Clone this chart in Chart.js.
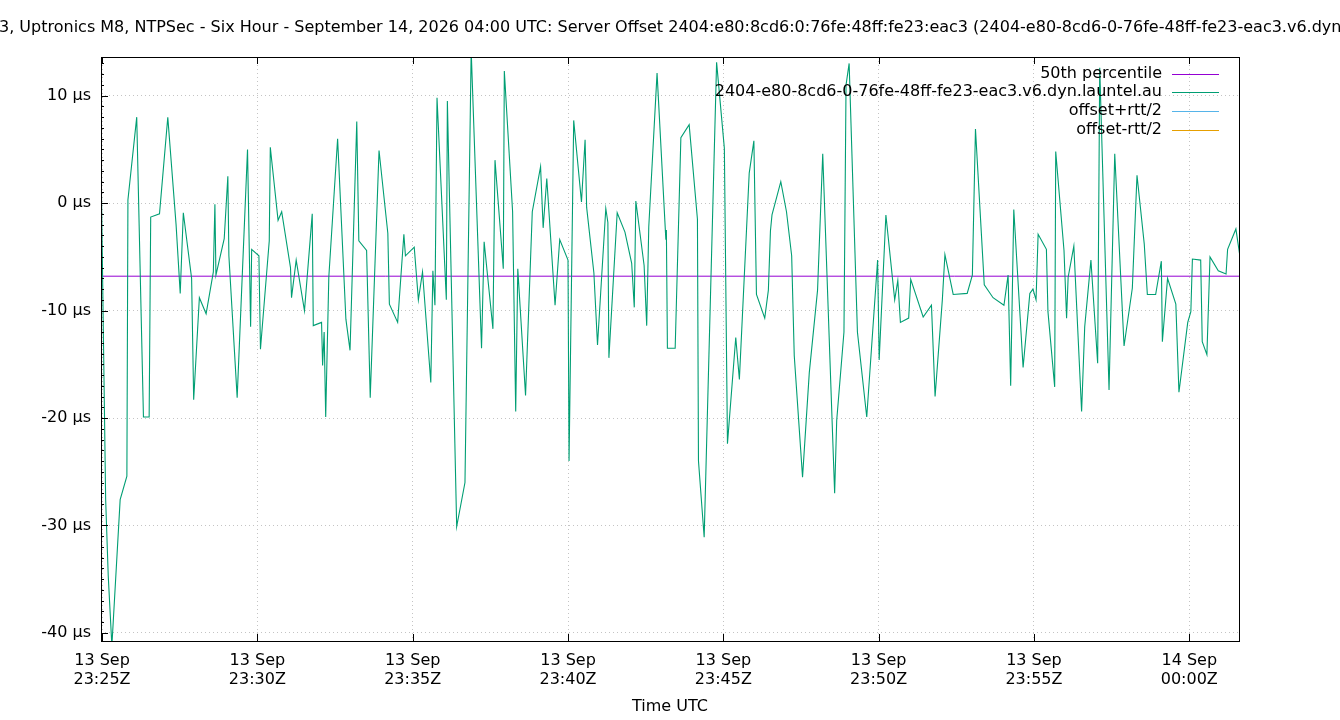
<!DOCTYPE html>
<html>
<head>
<meta charset="utf-8">
<script src="https://cdn.jsdelivr.net/npm/chart.js@4.4.1/dist/chart.umd.min.js"></script>
<style>
  html, body { margin: 0; padding: 0; background: #fff; }
  #wrap { width: 1340px; height: 720px; }
</style>
</head>
<body>
<div id="wrap"><canvas id="grafica" width="1340" height="720"></canvas></div>
<script>
// Texto del gráfico
const titulo = "3, Uptronics M8, NTPSec - Six Hour - September 14, 2026 04:00 UTC: Server Offset 2404:e80:8cd6:0:76fe:48ff:fe23:eac3 (2404-e80-8cd6-0-76fe-48ff-fe23-eac3.v6.dyn.launtel.au)";
const etiquetas = ["50th percentile", "2404-e80-8cd6-0-76fe-48ff-fe23-eac3.v6.dyn.launtel.au", "offset+rtt/2", "offset-rtt/2"];
const colores = ["#9400d3", "#009e73", "#56b4e9", "#e69f00"];

// segundos desde 13 Sep 23:25:00Z
const segundos = [
  -2, 7, 12, 19, 35, 48, 50, 67, 80, 91,
  94, 111, 127, 143, 151, 157, 173, 177, 188, 201,
  215, 218, 220, 236, 243, 245, 261, 281, 287, 289,
  303, 306, 323, 325, 340, 347, 364, 366, 375, 391,
  406, 408, 424, 426, 429, 432, 438, 455, 471, 479,
  492, 496, 511, 518, 535, 552, 555, 571, 583, 586,
  603, 611, 619, 635, 639, 643, 647, 665, 667, 685,
  701, 713, 733, 738, 755, 759, 775, 777, 793, 799,
  803, 818, 831, 847, 852, 859, 875, 884, 900, 902,
  911, 926, 933, 936, 950, 957, 973, 977, 979, 995,
  1010, 1023, 1028, 1031, 1047, 1052, 1056, 1072, 1089, 1090,
  1092, 1107, 1118, 1134, 1150, 1152, 1163, 1187, 1202, 1208,
  1224, 1231, 1250, 1259, 1264, 1280, 1287, 1291, 1294, 1311,
  1322, 1332, 1337, 1353, 1366, 1382, 1392, 1415, 1419, 1433,
  1437, 1443, 1459, 1477, 1498, 1501, 1514, 1531, 1537, 1542,
  1558, 1562, 1586, 1602, 1609, 1623, 1628, 1644, 1671, 1681,
  1687, 1704, 1721, 1742, 1750, 1755, 1761, 1779, 1792, 1798,
  1804, 1808, 1824, 1827, 1840, 1842, 1858, 1863, 1866, 1877,
  1892, 1898, 1910, 1923, 1927, 1945, 1956, 1974, 1990, 1999,
  2013, 2019, 2035, 2046, 2048, 2058, 2074, 2080, 2097, 2103,
  2106, 2122, 2125, 2134, 2140, 2156, 2171, 2174, 2190, 2198
];

// offset en µs
const offsetUs = [
  4.0, -27.6, -34.7, -41.2, -27.6, -25.4, 0.3, 8.0, -19.9, -19.9,
  -1.3, -1.0, 8.0, -2.0, -8.4, -0.9, -7.0, -18.3, -8.8, -10.3,
  -6.4, -0.1, -6.7, -3.3, 2.5, -4.9, -18.1, 5.0, -11.5, -4.3,
  -4.9, -13.6, -3.5, 5.2, -1.6, -0.8, -6.0, -8.8, -5.3, -10.0,
  -1.0, -11.4, -11.1, -15.1, -12.0, -19.9, -6.9, 6.0, -10.8, -13.7,
  7.6, -3.5, -4.4, -18.1, 4.9, -2.8, -9.4, -11.1, -2.9, -4.9,
  -4.1, -9.0, -6.4, -16.7, -6.3, -9.5, 9.8, -9.0, 9.5, -30.1,
  -26.0, 14.2, -13.5, -3.6, -11.7, 4.0, -6.1, 12.3, -0.8, -19.4,
  -6.1, -17.9, -0.8, 3.4, -2.3, 2.3, -9.5, -3.4, -5.3, -24.0,
  7.7, 0.1, 5.9, -0.4, -6.5, -13.2, -0.5, -1.8, -14.4, -0.9,
  -2.7, -5.6, -9.7, 0.2, -5.8, -11.4, -2.2, 12.1, -3.4, -2.5,
  -13.5, -13.5, 6.1, 7.3, -1.5, -24.0, -31.1, 13.1, 5.1, -22.4,
  -12.5, -16.4, 2.8, 5.8, -8.5, -10.7, -8.1, -2.6, -1.1, 2.0,
  -0.8, -4.9, -14.2, -25.5, -15.8, -8.1, 4.6, -27.0, -20.2, -12.0,
  11.0, 13.0, -12.0, -19.9, -5.3, -14.6, -1.1, -9.0, -7.2, -11.1,
  -10.7, -7.1, -10.6, -9.5, -18.0, -9.0, -4.8, -8.5, -8.4, -6.7,
  6.9, -7.6, -8.8, -9.5, -6.7, -17.0, -0.6, -15.3, -8.4, -8.0,
  -9.0, -2.9, -4.3, -10.1, -17.1, 4.8, -4.4, -10.7, -6.9, -4.0,
  -19.4, -11.5, -5.3, -14.9, 12.6, -17.4, 4.6, -13.3, -7.9, 2.6,
  -3.8, -8.5, -8.5, -5.4, -12.9, -7.0, -9.4, -17.6, -11.1, -10.1,
  -5.2, -5.3, -12.9, -14.1, -5.0, -6.3, -6.6, -4.3, -2.4, -5.0
];

const p50 = -6.8; // 50th percentile (µs)

// Ejes
const xMin = -2, xMax = 2196;
const yMin = -40.75, yMax = 13.6;
const ticksX = [0, 300, 600, 900, 1200, 1500, 1800, 2100];
const ticksY = [10, 0, -10, -20, -30, -40];
const baseDia = 13, baseMinuto = 23 * 60 + 25;

const FUENTE = "'DejaVu Sans', sans-serif";

function etiquetaHora(v) {
  const min = baseMinuto + Math.round(v / 60);
  const dia = baseDia + Math.floor(min / 1440);
  const h = Math.floor((min % 1440) / 60), m = min % 60;
  return [dia + " Sep", String(h).padStart(2, "0") + ":" + String(m).padStart(2, "0") + "Z"];
}

// título, marco, marcas y leyenda al estilo gnuplot
const estiloGnuplot = {
  id: "estiloGnuplot",
  afterDraw(chart) {
    const { ctx, chartArea: a, scales } = chart;
    ctx.save();
    ctx.fillStyle = "#000";
    ctx.font = "16px " + FUENTE;
    ctx.textBaseline = "middle";
    ctx.textAlign = "left";
    ctx.fillText(titulo, -1, 28);

    ctx.strokeStyle = "#000";
    ctx.lineWidth = 1;
    ctx.strokeRect(Math.round(a.left) + 0.5, Math.round(a.top) + 0.5, Math.round(a.right - a.left), Math.round(a.bottom - a.top));

    ctx.beginPath();
    ticksX.forEach(v => {
      const x = Math.round(scales.x.getPixelForValue(v)) + 0.5;
      ctx.moveTo(x, a.bottom); ctx.lineTo(x, a.bottom - 7);
      ctx.moveTo(x, a.top); ctx.lineTo(x, a.top + 7);
    });
    ticksY.forEach(v => {
      const y = Math.round(scales.y.getPixelForValue(v)) + 0.5;
      ctx.moveTo(a.left, y); ctx.lineTo(a.left + 7, y);
    });
    for (let v = -40; v <= 13; v++) {
      const y = Math.round(scales.y.getPixelForValue(v)) + 0.5;
      ctx.moveTo(a.left, y); ctx.lineTo(a.left + 3, y);
    }
    ctx.stroke();

    ctx.textAlign = "right";
    etiquetas.forEach((t, i) => {
      const y = 73.5 + i * 18.7;
      ctx.fillStyle = "#000";
      ctx.fillText(t, 1162, y);
      ctx.strokeStyle = colores[i];
      ctx.beginPath();
      ctx.moveTo(1172, Math.round(y) + 0.5);
      ctx.lineTo(1219, Math.round(y) + 0.5);
      ctx.stroke();
    });
    ctx.restore();
  }
};

const ctx = document.getElementById("grafica").getContext("2d");
new Chart(ctx, {
  type: "line",
  data: {
    datasets: [
      {
        label: etiquetas[0],
        data: [{ x: xMin, y: p50 }, { x: xMax, y: p50 }],
        borderColor: colores[0],
        borderWidth: 1,
        pointRadius: 0,
        order: 1
      },
      {
        label: etiquetas[1],
        data: segundos.map((s, i) => ({ x: s, y: offsetUs[i] })),
        borderColor: colores[1],
        borderWidth: 1.1,
        pointRadius: 0,
        tension: 0,
        order: 0
      },
      { label: etiquetas[2], data: [], borderColor: colores[2], borderWidth: 1, pointRadius: 0 },
      { label: etiquetas[3], data: [], borderColor: colores[3], borderWidth: 1, pointRadius: 0 }
    ]
  },
  options: {
    responsive: false,
    animation: false,
    devicePixelRatio: 1,
    layout: { padding: { top: 57, right: 101, bottom: 0, left: 0 } },
    plugins: {
      legend: { display: false },
      title: { display: false },
      tooltip: { enabled: false }
    },
    scales: {
      x: {
        type: "linear",
        min: xMin,
        max: xMax,
        afterBuildTicks: axis => { axis.ticks = ticksX.map(v => ({ value: v })); },
        afterFit: axis => { axis.height = 79; },
        ticks: {
          color: "#000",
          font: { family: FUENTE, size: 16 },
          padding: 10,
          maxRotation: 0,
          autoSkip: false,
          callback: v => etiquetaHora(v)
        },
        grid: { color: "#c4c4c4", lineWidth: 1, drawTicks: false },
        border: { display: false, dash: [1, 3] },
        title: {
          display: true,
          text: "Time UTC",
          color: "#000",
          font: { family: FUENTE, size: 16 },
          padding: { top: 0, bottom: 4 }
        }
      },
      y: {
        min: yMin,
        max: yMax,
        afterBuildTicks: axis => { axis.ticks = ticksY.map(v => ({ value: v })); },
        afterFit: axis => { axis.width = 101; },
        ticks: {
          color: "#000",
          font: { family: FUENTE, size: 16 },
          padding: 10,
          callback: v => v + " µs"
        },
        grid: { color: "#c4c4c4", lineWidth: 1, drawTicks: false },
        border: { display: false, dash: [1, 3] }
      }
    }
  },
  plugins: [estiloGnuplot]
});
</script>
</body>
</html>
